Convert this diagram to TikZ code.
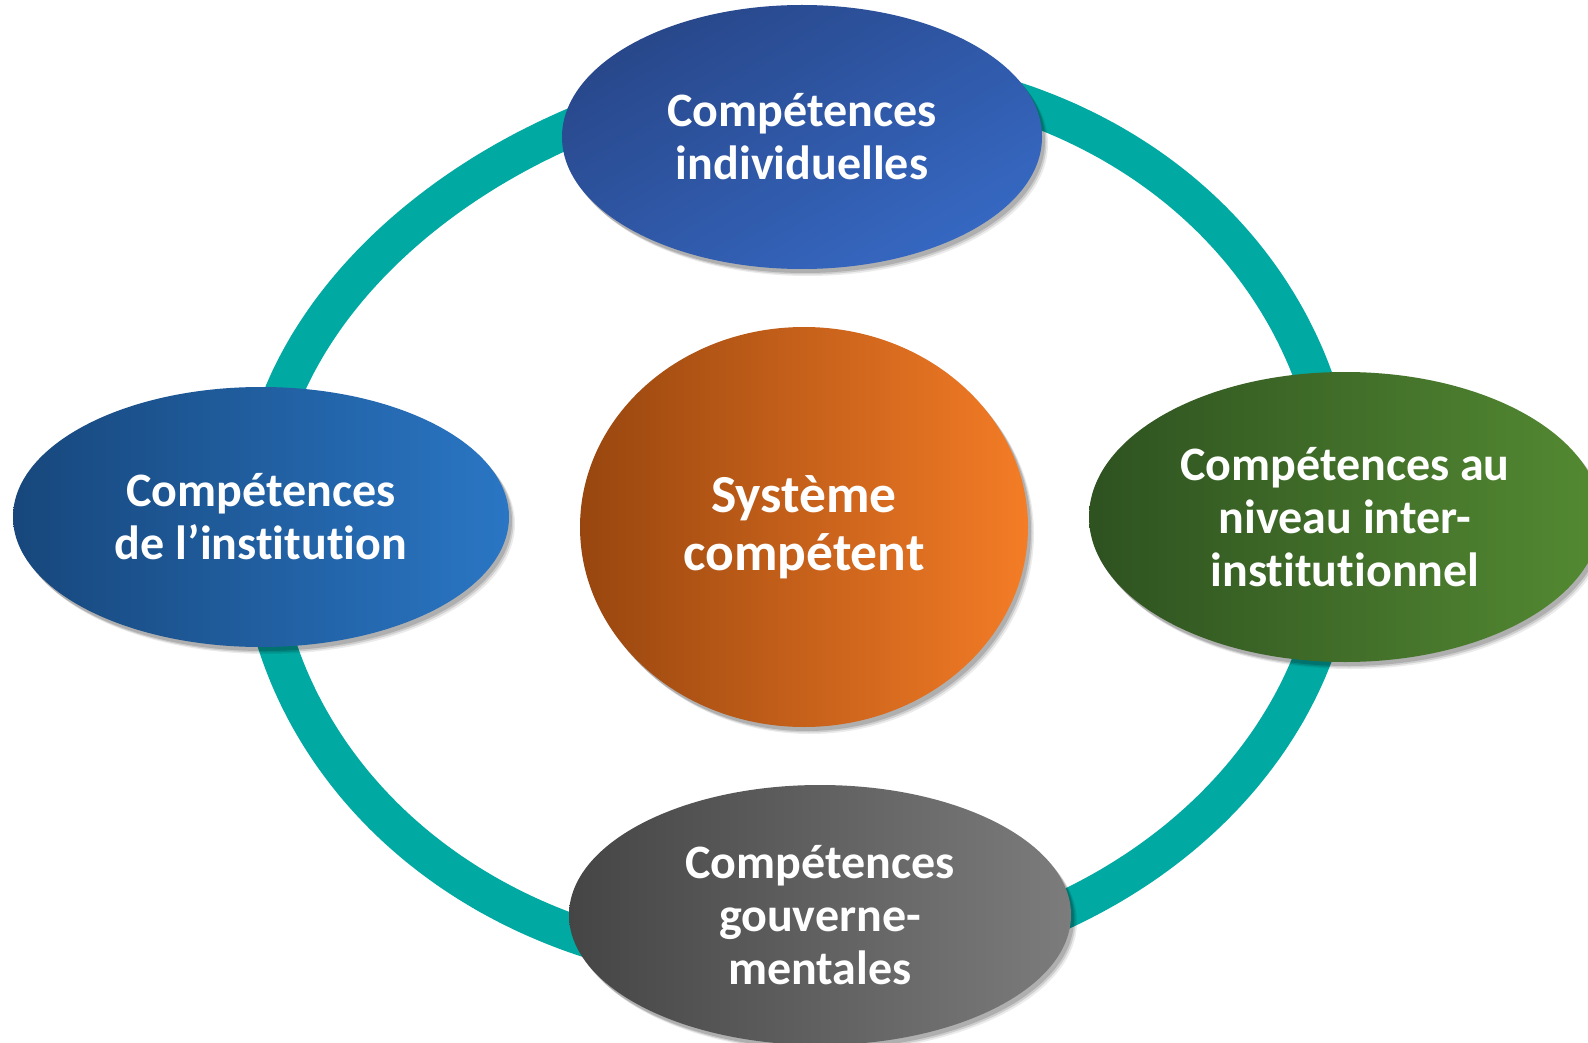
\documentclass[tikz,border=0pt]{standalone}
\usepackage{fontspec}
\setmainfont{Carlito}[Ligatures=NoCommon]
\usetikzlibrary{shapes.geometric,shadows}
\definecolor{ringc}{HTML}{00A9A2}
\definecolor{topA}{HTML}{28478A}
\definecolor{topB}{HTML}{3668C2}
\definecolor{leftA}{HTML}{17477C}
\definecolor{leftB}{HTML}{2A76C4}
\definecolor{rightA}{HTML}{2E5220}
\definecolor{rightB}{HTML}{548A32}
\definecolor{botA}{HTML}{454545}
\definecolor{botB}{HTML}{7C7C7C}
\definecolor{cenA}{HTML}{98460F}
\definecolor{cenB}{HTML}{F47C26}
\tikzset{
  bubble/.style={ellipse, inner sep=0pt, align=center, text=white,
    font=\fontsize{48}{53}\selectfont\bfseries,
    drop shadow={shadow xshift=6pt, shadow yshift=-7pt, opacity=0.08, fill=black},
    drop shadow={shadow xshift=4.5pt, shadow yshift=-5.5pt, opacity=0.12, fill=black},
    drop shadow={shadow xshift=3pt, shadow yshift=-4pt, opacity=0.15, fill=black}},
  ringline/.style={draw=ringc, line width=38pt}
}
\begin{document}
\begin{tikzpicture}[x=1pt,y=-1pt]
\useasboundingbox (0,0) rectangle (1588,1043);
\clip (0,0) rectangle (1588,1043);
\fill[white] (0,0) rectangle (1588,1043);
\draw[ringline] plot[domain=0:357.5, samples=144, smooth cycle]
  ({798+541*cos(\x)},
   {520+448*sin(\x)
    -541*max(0,-sin(\x))*(0.045*max(0,cos(\x))+0.07*min(0,cos(\x)))
    +0.03*541*max(0,-cos(\x))*max(0,sin(\x))});
\node[bubble, minimum width=480pt, minimum height=264pt,
  top color=topA, bottom color=topB, shading angle=30] (ind) at (802,137)
  {Compétences\\individuelles};
\node[bubble, minimum width=496pt, minimum height=260pt,
  left color=leftA, right color=leftB] (inst) at (261,517)
  {Compétences\\de l’institution};
\node[bubble, minimum width=512pt, minimum height=290pt,
  left color=rightA, right color=rightB] (inter) at (1345,517)
  {Compétences au\\niveau inter-\\institutionnel};
\node[bubble, minimum width=502pt, minimum height=260pt,
  left color=botA, right color=botB] (gouv) at (820,915)
  {Compétences\\gouverne-\\mentales};
\node[bubble, minimum width=448pt, minimum height=400pt,
  left color=cenA, right color=cenB,
  font=\fontsize{53.5}{58}\selectfont\bfseries] (sys) at (804,527)
  {Système\\compétent};
\end{tikzpicture}
\end{document}
